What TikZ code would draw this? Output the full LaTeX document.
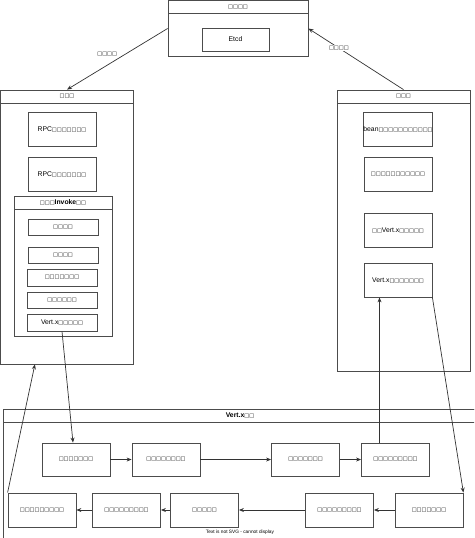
\documentclass[tikz,border=0pt]{standalone}
\usepackage{fontspec}
\setmainfont{Liberation Sans}
\newfontfamily\tofufont{DejaVu Sans}
\newcommand\tf[1]{{\tofufont\fontsize{5.2}{6}\selectfont #1}}
\usetikzlibrary{calc,arrows.meta}

\begin{document}
\begin{tikzpicture}[
    x=1pt, y=-1pt,
    >={Stealth[length=5pt,width=4pt]},
    lane/.style={
        draw=black!70,
        line width=0.8pt,
        inner sep=0pt
    },
    lanehead/.style={
        draw=black!70,
        line width=0.8pt,
        minimum height=13pt,
        inner sep=0pt,
        anchor=north,
        font=\bfseries\fontsize{6.8}{7.5}\selectfont
    },
    box/.style={
        draw=black!70,
        line width=0.8pt,
        minimum width=68pt,
        minimum height=34pt,
        inner sep=0pt,
        align=center,
        font=\fontsize{6.8}{7.5}\selectfont
    },
    small/.style={box, minimum width=70pt, minimum height=16pt},
    arr/.style={->, line width=0.7pt, draw=black!80}
]
    \clip (0,0) rectangle (474,538);

    % etcd
    \node[lane, minimum width=140pt, minimum height=56pt] (etcd) at (238,28.5) {};
    \node[lanehead, minimum width=140pt] (etcdhead) at (etcd.north) {\tf{□□□□}};
    \node[box, minimum width=67pt, minimum height=23pt] (etcdbox) at (235.5,39.5) {Etcd};

    % left lane
    \node[lane, minimum width=133pt, minimum height=274pt] (svc) at (67,227) {};
    \node[lanehead, minimum width=133pt] (svchead) at (svc.north) {\tf{□□□}};
    \node[box] (rpca) at (62,129) {RPC\tf{□□□□□□□}};
    \node[box] (rpcb) at (62,174) {RPC\tf{□□□□□□□}};

    \node[lane, minimum width=98pt, minimum height=140pt] (inv) at (63,266) {};
    \node[lanehead, minimum width=98pt] (invhead) at (inv.north)
        {\tf{□□□}Invoke\tf{□□}};
    \node[small] (inva) at (63,227) {\tf{□□□□}};
    \node[small] (invb) at (63,255) {\tf{□□□□}};
    \node[small, minimum height=17pt] (invc) at (62,277.5) {\tf{□□□□□□□}};
    \node[small] (invd) at (62,300) {\tf{□□□□□□}};
    \node[small, minimum height=17pt] (inve) at (62,322.5) {Vert.x\tf{□□□□□}};

    % right lane
    \node[lane, minimum width=133pt, minimum height=281pt] (prov) at (403.5,230.5) {};
    \node[lanehead, minimum width=133pt] (provhead) at (prov.north) {\tf{□□□}};
    \node[box] (prova) at (398,129) {bean\tf{□□□□□□□□□□□}};
    \node[box] (provb) at (398,174) {\tf{□□□□□□□□□□□}};
    \node[box] (provc) at (398,230) {\tf{□□}Vert.x\tf{□□□□□}};
    \node[box] (provd) at (398,280) {Vert.x\tf{□□□□□□□}};

    % vert.x lane
    \node[lane, minimum width=474pt, minimum height=140pt] (vx) at (240,479) {};
    \node[lanehead, minimum width=474pt] (vxhead) at (vx.north) {Vert.x\tf{□□}};

    \node[box, minimum height=33pt] (sa) at (76,459.5) {\tf{□□□□□□□}};
    \node[box, minimum height=33pt] (sb) at (166,459.5) {\tf{□□□□□□□□}};
    \node[box, minimum height=33pt] (sc) at (305.5,459.5) {\tf{□□□□□□□}};
    \node[box, minimum height=33pt] (sd) at (395.5,459.5) {\tf{□□□□□□□□□}};

    \node[box] (re) at (42,510) {\tf{□□□□□□□□□}};
    \node[box] (rf) at (126.5,510) {\tf{□□□□□□□□□}};
    \node[box] (rg) at (204.5,510) {\tf{□□□□□}};
    \node[box] (rh) at (339.5,510) {\tf{□□□□□□□□□}};
    \node[box] (ri) at (429,510) {\tf{□□□□□□□}};

    \node[font=\fontsize{4.8}{5}\selectfont, inner sep=0pt] (nosvg) at (240,532)
        {Text is not SVG - cannot display};

    % connectors
    \draw[arr] (etcd.west) -- node[pos=0.6, above, yshift=5pt, font=\fontsize{6.8}{7.5}\selectfont] {\tf{□□□□}} (svchead.north);
    \draw[arr] (provhead.north) -- node[pos=0.68, fill=white, inner sep=1pt] {\tf{□□□□}} (etcd.east);

    \draw[arr] (inve.south) -- ([xshift=-3pt]sa.north);
    \draw[arr] (re.north west) -- ($(svc.south west)!0.26!(svc.south east)$);
    \draw[arr] ([xshift=-16pt]sd.north) -- ([xshift=-16pt]sd.north |- provd.south);
    \draw[arr] (provd.south east) -- (ri.north east);

    \draw[arr] (sa) -- (sb);
    \draw[arr] (sb) -- (sc);
    \draw[arr] (sc) -- (sd);
    \draw[arr] (ri) -- (rh);
    \draw[arr] (rh) -- (rg);
    \draw[arr] (rg) -- (rf);
    \draw[arr] (rf) -- (re);
\end{tikzpicture}
\end{document}
